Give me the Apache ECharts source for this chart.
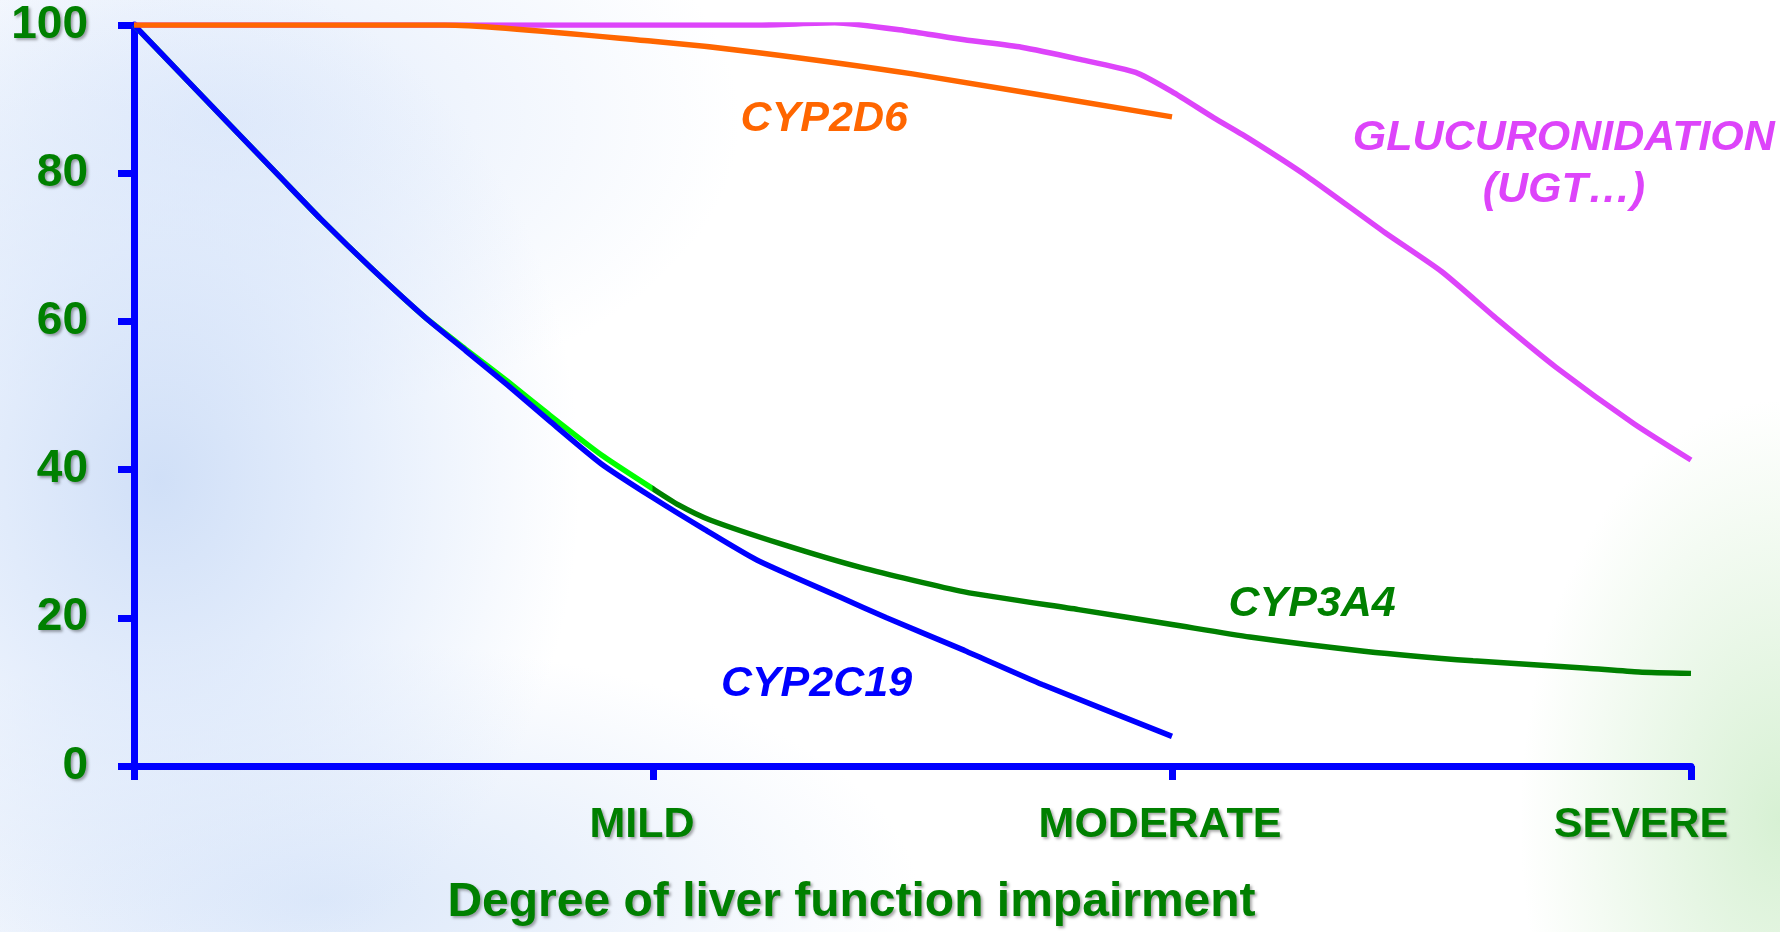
<!DOCTYPE html>
<html>
<head>
<meta charset="utf-8">
<script src="https://cdn.jsdelivr.net/npm/echarts@6/dist/echarts.min.js"></script>
<style>
html, body { margin: 0; padding: 0; width: 1780px; height: 932px; overflow: hidden; }
body {
  background:
    radial-gradient(ellipse 420px 520px at 160px 480px, rgba(200,218,246,0.85) 0%, rgba(214,228,250,0.65) 45%, rgba(255,255,255,0) 100%),
    radial-gradient(ellipse 520px 300px at 220px 120px, rgba(216,229,250,0.75) 0%, rgba(255,255,255,0) 100%),
    radial-gradient(ellipse 600px 260px at 320px 900px, rgba(208,224,248,0.75) 0%, rgba(255,255,255,0) 100%),
    radial-gradient(ellipse 260px 420px at 1780px 820px, rgba(208,238,204,0.85) 0%, rgba(255,255,255,0) 100%),
    #ffffff;
}
#chart { width: 1780px; height: 932px; }
</style>
</head>
<body>
<div id="chart"></div>
<script>
// ---- data ----
var xTickLabels = ['', 'MILD', 'MODERATE', 'SEVERE'];
var yTicks = [0, 20, 40, 60, 80, 100];

var cyp2d6X = [0, 0.6, 1.0, 1.2, 1.5, 2.0];
var cyp2d6Y = [100, 100, 97.8, 96.3, 93.4, 87.6];

var cyp2c19X = [0, 0.1, 0.2, 0.28, 0.36, 0.46, 0.56, 0.64, 0.72, 0.8, 0.9, 1.0, 1.1, 1.2, 1.36, 1.45, 1.6, 1.75, 2.0];
var cyp2c19Y = [100, 92.7, 85.4, 79.6, 73.8, 67.0, 60.6, 56.0, 51.4, 46.6, 40.8, 36.2, 31.9, 27.8, 22.8, 20, 15.6, 11, 4];

var cyp3a4X = [0, 0.1, 0.2, 0.28, 0.36, 0.46, 0.56, 0.64, 0.72, 0.8, 0.9, 1.0, 1.05, 1.11, 1.25, 1.4, 1.6, 1.82, 2.0, 2.15, 2.37, 2.58, 2.8, 2.9, 3.0];
var cyp3a4Y = [100, 92.7, 85.4, 79.6, 73.8, 67.0, 60.6, 56.2, 51.9, 47.4, 42.0, 37.4, 35.2, 33.2, 29.9, 26.8, 23.5, 21.1, 19.1, 17.4, 15.5, 14.2, 13.2, 12.7, 12.5];
var cyp3a4LimeUntil = 1.0; // part of CYP3A4 drawn in bright green

var glucX = [0, 1.2, 1.35, 1.49, 1.6, 1.71, 1.82, 1.93, 2.0, 2.08, 2.15, 2.26, 2.41, 2.52, 2.63, 2.74, 2.89, 3.0];
var glucY = [100, 100, 100.3, 99.2, 98, 97, 95.4, 93.6, 91.0, 87.5, 84.6, 79.6, 72.0, 66.7, 60.1, 53.8, 46.2, 41.3];

// annotation texts and their anchor in data space
var labelTexts = ['CYP2D6', 'CYP2C19', 'CYP3A4', 'GLUCURONIDATION', '(UGT…)'];
var labelX = [1.33, 1.315, 2.27, 2.755, 2.755];
var labelY = [87.3, 11.1, 21.9, 84.7, 77.7];
var labelColors = ['#FF6600', '#0000FF', '#008000', '#DD44FA', '#DD44FA'];

function pairs(xs, ys) { return xs.map(function (x, i) { return [x, ys[i]]; }); }

var FONT = '"Liberation Sans", Arial, sans-serif';
var shadow = { textShadowColor: 'rgba(0,0,0,0.35)', textShadowBlur: 3, textShadowOffsetX: 2, textShadowOffsetY: 2 };
var axisBlue = '#0000FF';
var xMax = 3;

var chart = echarts.init(document.getElementById('chart'), null, { renderer: 'canvas' });

var limeStop = cyp3a4LimeUntil / xMax;
var cyp3a4Color = new echarts.graphic.LinearGradient(0, 0, 1, 0, [
  { offset: 0, color: '#00FF00' },
  { offset: limeStop, color: '#00FF00' },
  { offset: limeStop + 0.0005, color: '#008000' },
  { offset: 1, color: '#008000' }
]);

var labelRich = function (padRight) {
  return Object.assign({ color: '#008000', fontFamily: FONT, fontWeight: 'bold', fontSize: 43, padding: [0, padRight, 0, 0] }, shadow);
};

var option = {
  backgroundColor: 'transparent',
  animation: false,
  grid: { left: 134, right: 89, top: 25, bottom: 161, containLabel: false },
  xAxis: {
    type: 'value', min: 0, max: xMax, interval: 1,
    name: 'Degree of liver function impairment',
    nameLocation: 'middle', nameGap: 113,
    nameTextStyle: Object.assign({ color: '#008000', fontFamily: FONT, fontWeight: 'bold', fontSize: 48, padding: [0, 122, 0, 0] }, shadow),
    axisLine: { show: true, onZero: false, lineStyle: { color: axisBlue, width: 7 } },
    axisTick: { show: true, inside: false, length: 14, lineStyle: { color: axisBlue, width: 7 } },
    splitLine: { show: false },
    axisLabel: {
      margin: 38,
      formatter: function (v) {
        var t = xTickLabels[Math.round(v)] || '';
        if (!t) return '';
        return '{l' + Math.round(v) + '|' + t + '}';
      },
      rich: { l1: labelRich(22), l2: labelRich(24), l3: labelRich(100) }
    }
  },
  yAxis: {
    type: 'value', min: 0, max: 100, interval: 20,
    axisLine: { show: true, lineStyle: { color: axisBlue, width: 7 } },
    axisTick: { show: true, inside: false, length: 16, lineStyle: { color: axisBlue, width: 7 } },
    splitLine: { show: false },
    axisLabel: Object.assign({
      margin: 46, padding: [14, 0, 0, 0],
      color: '#008000', fontFamily: FONT, fontWeight: 'bold', fontSize: 46,
      formatter: function (v) { return yTicks.indexOf(v) >= 0 ? String(v) : ''; }
    }, shadow)
  },
  series: [
    { name: 'GLUCURONIDATION', type: 'line', data: pairs(glucX, glucY), smooth: 0.2, showSymbol: false, z: 2,
      lineStyle: { color: '#DD44FA', width: 5.5 }, itemStyle: { color: '#DD44FA' } },
    { name: 'CYP3A4', type: 'line', data: pairs(cyp3a4X, cyp3a4Y), smooth: 0.2, showSymbol: false, z: 3,
      lineStyle: { color: cyp3a4Color, width: 5.5 }, itemStyle: { color: '#008000' } },
    { name: 'CYP2C19', type: 'line', data: pairs(cyp2c19X, cyp2c19Y), smooth: 0.2, showSymbol: false, z: 4,
      lineStyle: { color: '#0000FF', width: 5.5 }, itemStyle: { color: '#0000FF' } },
    { name: 'CYP2D6', type: 'line', data: pairs(cyp2d6X, cyp2d6Y), smooth: 0.2, showSymbol: false, z: 5,
      lineStyle: { color: '#FF6600', width: 5.5 }, itemStyle: { color: '#FF6600' } }
  ]
};
chart.setOption(option);

// annotations placed through the chart's own scales
var texts = labelTexts.map(function (t, i) {
  var p = chart.convertToPixel({ xAxisIndex: 0, yAxisIndex: 0 }, [labelX[i], labelY[i]]);
  return {
    type: 'text', x: p[0], y: p[1], z: 100,
    style: {
      text: t, fill: labelColors[i], font: 'italic bold 43px ' + FONT,
      align: 'center', verticalAlign: 'middle',
      shadowColor: 'rgba(0,0,0,0.3)', shadowBlur: 3, shadowOffsetX: 2, shadowOffsetY: 2
    }
  };
});
chart.setOption({ graphic: texts });
</script>
</body>
</html>
